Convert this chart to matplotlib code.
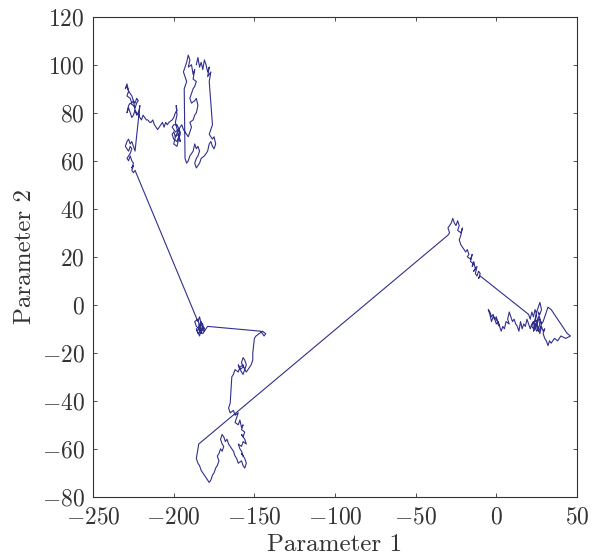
import matplotlib.pyplot as plt

plt.rcParams['font.family'] = 'serif'
plt.rcParams['font.serif'] = ['cmr10', 'DejaVu Serif']
plt.rcParams['mathtext.fontset'] = 'cm'
plt.rcParams['axes.formatter.use_mathtext'] = True

# Trajectory through parameter space, stored piece by piece as
# (parameter 1, parameter 2) pairs in the order they were visited.
upper_right_cluster = [
    (-186, 100), (-185, 103), (-184, 99), (-183, 101), (-182, 98), (-181, 102),
    (-180, 100), (-179, 97), (-178, 99), (-179, 95), (-177, 97), (-178, 93),
    (-176, 75), (-177, 73), (-178, 71), (-176, 69), (-175, 70), (-174, 67),
    (-175, 65), (-176, 66), (-177, 68), (-178, 67), (-179, 64), (-180, 63),
    (-181, 62), (-183, 61), (-184, 59), (-185, 58), (-186, 57), (-187, 59),
    (-186, 61), (-185, 62), (-184, 64), (-185, 66), (-186, 65), (-187, 67),
    (-188, 64), (-189, 63), (-190, 62), (-191, 60), (-192, 59), (-193, 61),
    (-193.5, 90), (-192, 93), (-193, 95), (-194, 97), (-193, 99), (-192, 101),
    (-191, 104), (-190, 102), (-191, 99), (-189, 100), (-188, 96), (-187, 98),
    (-188, 94), (-186, 93), (-187, 91), (-188, 90), (-189, 88), (-190, 86),
    (-189, 84), (-187, 85), (-186, 86), (-185, 83), (-186, 80), (-187, 79),
    (-188, 77), (-190, 76), (-189, 74), (-190, 72), (-191, 70), (-193, 72),
    (-194, 73), (-195, 75), (-197, 73),
]
square_cluster = [
    (-199, 70), (-200, 67), (-198, 66), (-197, 69), (-196, 71), (-197, 73),
    (-199, 72), (-201, 74), (-200, 75), (-198, 75), (-196, 72), (-197, 70),
    (-198, 68), (-200, 69), (-201, 71), (-200, 72), (-199, 70), (-197, 71),
    (-196, 68), (-199, 76), (-198, 79), (-198.5, 83), (-198, 81), (-199, 80),
    (-200, 78), (-201, 77),
]
left_chain = [
    (-203, 76), (-204, 75), (-205, 76), (-206, 74), (-207, 76), (-208, 75),
    (-209, 74), (-210, 73), (-211, 74), (-212, 75), (-213, 77), (-214, 76),
    (-215, 76), (-216, 77), (-217, 77), (-218, 78), (-219, 79), (-220, 77),
    (-221, 78),
]
upper_left_cluster = [
    (-222, 80), (-223, 79), (-224, 81), (-225, 79), (-226, 78), (-227, 80),
    (-228, 82), (-229, 80), (-228, 83), (-227, 84), (-225, 83), (-224, 82),
    (-223, 84), (-222, 85), (-223, 86), (-224, 84), (-225, 85), (-226, 87),
    (-227, 88), (-228, 89), (-229, 91), (-230, 90), (-229, 92), (-228, 89),
    (-229, 87), (-227, 86), (-226, 84), (-225, 85), (-224, 81), (-223, 80),
    (-222, 79), (-221, 83),
    (-224, 64), (-225, 66), (-226, 68), (-227, 67), (-228, 69), (-229, 68),
    (-230, 66), (-229, 65), (-228, 64), (-227, 66), (-226, 65), (-227, 63),
    (-228, 62), (-229, 61), (-228, 60), (-227, 62), (-226, 60), (-225, 59),
    (-226, 57), (-225, 58), (-226, 56), (-225, 55), (-224, 56),
]
middle_cluster = [
    (-185, -7), (-184, -5), (-183, -8), (-184, -10), (-186, -9), (-187, -7),
    (-185, -6), (-184, -9), (-182, -8), (-183, -11), (-185, -12), (-186, -10),
    (-184, -13), (-183, -10), (-181, -11), (-182, -9), (-184, -8), (-185, -10),
    (-183, -12), (-182, -9), (-181, -10), (-183, -7), (-184, -11), (-182, -12),
    (-180, -10), (-179, -9),
]
descent = [
    (-146, -11), (-144, -13), (-143, -12), (-145, -11), (-147, -12), (-149, -13),
    (-150, -14), (-150.5, -17), (-151, -20), (-151, -23), (-152, -25),
    (-153, -26), (-154, -27), (-155, -28), (-156, -27), (-155, -25), (-156, -23),
    (-157, -22), (-158, -24), (-157, -26), (-159, -27), (-160, -25), (-158, -28),
    (-157, -29), (-156, -27), (-157, -25), (-159, -26), (-160, -28), (-162, -27),
    (-163, -29), (-164, -30),
    (-165, -41), (-166, -43), (-165, -45), (-163, -44), (-162, -46),
]
lower_cluster = [
    (-160, -45), (-161, -47), (-162, -49), (-160, -50), (-159, -48), (-158, -51),
    (-157, -50), (-158, -52), (-156, -53), (-157, -55), (-158, -54), (-156, -56),
    (-155, -58), (-157, -57), (-158, -59), (-160, -58), (-159, -60), (-158, -61),
    (-157, -63), (-158, -62), (-156, -64), (-155, -66), (-156, -68), (-157, -67),
    (-158, -65), (-160, -66), (-161, -64), (-162, -63), (-163, -61), (-164, -60),
    (-165, -59), (-166, -58), (-167, -56), (-168, -57), (-169, -55), (-170, -54),
    (-171, -56), (-170, -58), (-169, -59), (-170, -61), (-171, -60), (-172, -62),
    (-173, -63), (-172, -65), (-173, -67), (-174, -68), (-175, -70),
    (-176, -71), (-177, -73), (-178, -74), (-179, -73), (-180, -72), (-181, -71),
    (-182, -70), (-183, -69), (-184, -67), (-185, -66), (-186, -64),
    (-185.5, -62), (-185, -60), (-184.5, -58),
]
upper_middle_cluster = [
    (-30, 29), (-29, 30), (-30, 32), (-28, 34), (-27, 36), (-26, 34), (-25, 33),
    (-24, 35), (-23, 33), (-24, 31), (-22, 30), (-21, 32), (-22, 29), (-23, 27),
    (-22, 25), (-21, 24), (-20, 23), (-19, 22), (-18, 23), (-17, 21),
    (-18, 20), (-16, 19), (-15, 21), (-16, 18), (-14, 17), (-15, 16), (-14, 18),
    (-13, 15), (-14, 14), (-12, 16), (-13, 13), (-12, 12), (-11, 14), (-10, 13),
    (-11, 11), (-10, 12),
]
right_cluster = [
    (20, -4), (21, -6), (22, -3), (23, -5), (24, -2), (25, -4), (24, -7),
    (26, -6), (27, -8), (26, -10), (25, -7), (24, -9), (23, -11), (24, -10),
    (25, -8), (26, -5), (27, -6), (28, -8), (27, -10), (26, -11), (25, -9),
    (24, -8), (23, -7), (22, -9), (23, -10), (24, -6), (25, -3), (26, -1),
    (27, 1), (28, -2), (27, -4), (26, -3), (27, -6), (28, -8), (29, -7),
    (30, -5), (31, -3), (32, -1), (34, -2), (36, -4), (38, -6), (40, -8),
    (42, -10), (44, -12), (46, -13), (43, -14), (40, -13), (38, -15), (36, -14),
    (34, -16), (33, -15), (32, -17), (31, -15), (30, -14), (29, -12), (30, -10),
    (29, -11), (28, -9), (27, -12), (26, -10), (25, -11), (24, -9), (23, -7),
    (22, -8), (21, -10), (20, -8), (19, -6), (18, -9), (17, -8), (16, -10),
    (15, -7), (14, -11), (13, -9), (12, -8), (11, -6), (10, -7),
    (9, -5), (8, -3), (7, -6), (8, -8), (6, -7), (5, -10), (4, -9), (3, -11),
    (2, -9), (1, -7), (0, -8), (-1, -6), (-2, -5), (-3, -7), (-4, -4), (-5, -2),
    (-4, -3), (-3, -5), (-2, -4), (-1, -6), (0, -5), (1, -8), (2, -9), (1, -7),
    (0, -6),
]

path = (upper_right_cluster + square_cluster + left_chain + upper_left_cluster
        + middle_cluster + descent + lower_cluster + upper_middle_cluster
        + right_cluster)
param1 = [p[0] for p in path]
param2 = [p[1] for p in path]

fig = plt.figure(figsize=(5.93, 5.57), dpi=100)
ax = fig.add_axes([0.157, 0.108, 0.816, 0.862])

ax.plot(param1, param2, color='#30308c', linewidth=0.8)

ax.set_xlim(-250, 50)
ax.set_ylim(-80, 120)
ax.set_xticks([-250, -200, -150, -100, -50, 0, 50])
ax.set_yticks([-80, -60, -40, -20, 0, 20, 40, 60, 80, 100, 120])
ax.tick_params(direction='in', length=3, width=0.6, top=True, right=True,
               labelsize=17, colors='#333333')
ax.tick_params(axis='x', pad=7)
ax.tick_params(axis='y', pad=6)
for spine in ax.spines.values():
    spine.set_linewidth(0.8)
    spine.set_color('#333333')

ax.set_xlabel('Parameter 1', fontsize=18, color='#333333', labelpad=4)
ax.set_ylabel('Parameter 2', fontsize=18, color='#333333', labelpad=4)

fig.savefig('out.png', dpi=100)
